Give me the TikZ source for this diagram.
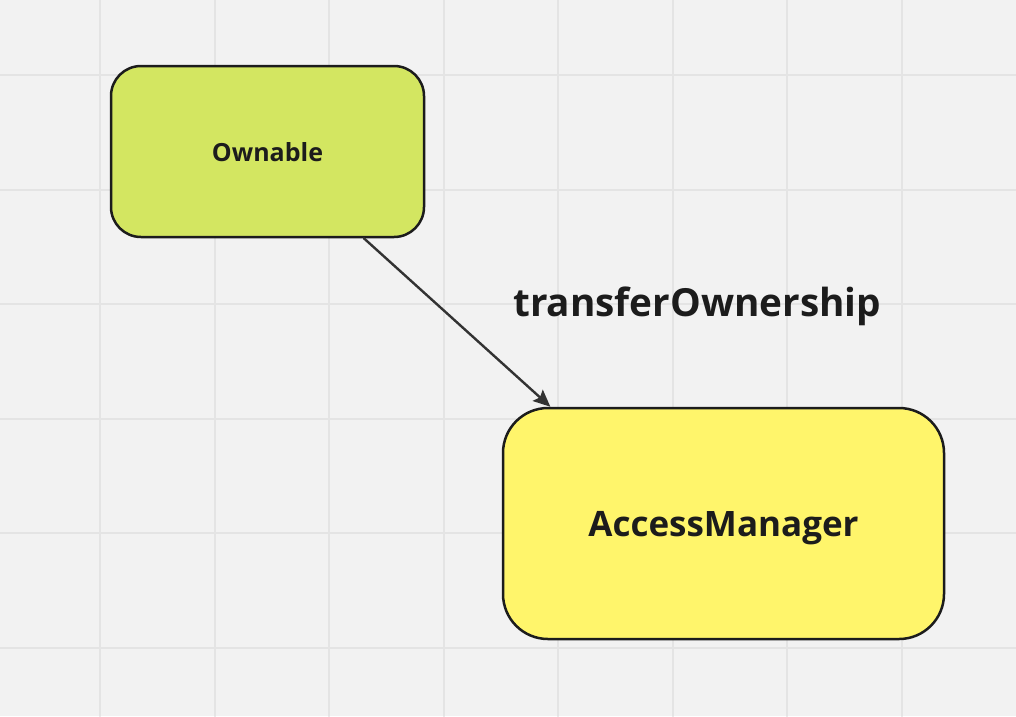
\documentclass[tikz,border=0pt]{standalone}
\usepackage{fontspec}
\setmainfont{Open Sans}
\usepackage[dvipsnames]{xcolor}
\usetikzlibrary{arrows}
\usetikzlibrary{arrows.meta}
\usetikzlibrary{positioning}
\definecolor{paper}{HTML}{F2F2F2}
\definecolor{gridgray}{HTML}{E4E4E4}
\definecolor{limegreen}{HTML}{D3E661}
\definecolor{lemon}{HTML}{FFF56B}
\definecolor{inkgray}{HTML}{1C1C1C}
\definecolor{arrowgray}{HTML}{333333}
\tikzset{
  classbox/.style={draw=inkgray,line width=2.5pt,rounded corners=#1,align=center,text=inkgray,text depth=0pt},
  calls/.style={-{Stealth[length=17pt,width=15pt,inset=3pt]},color=arrowgray,line width=2.4pt}
}

\begin{document}
\begin{tikzpicture}[line cap=round,line join=round,x=1pt,y=-1pt]
\fill[color=paper] (0,0) rectangle (1016,716);
\useasboundingbox (0,0) rectangle (1016,716);
\foreach \x in {0,...,7}
\draw[color=gridgray,line width=2pt] ({100+114.5*\x},0) -- ({100+114.5*\x},716);
\foreach \y in {0,...,5}
\draw[color=gridgray,line width=2pt] (0,{75+114.5*\y}) -- (1016,{75+114.5*\y});
\node[classbox=30pt,fill=limegreen,minimum width=313pt,minimum height=171pt,font=\bfseries\fontsize{25}{30}\selectfont] (ownable) at (267.5,151.5) {Ownable};
\node[classbox=45pt,fill=lemon,minimum width=441pt,minimum height=231pt,font=\bfseries\fontsize{35}{42}\selectfont] (manager) at (723.5,523.5) {AccessManager};
\draw[calls] (ownable.-42.7) -- (manager.146.3);
\node[anchor=base west,inner sep=0pt,text=inkgray,font=\bfseries\fontsize{38.7}{46}\selectfont] (transfer) at (513,316.5) {transferOwnership};
\end{tikzpicture}
\end{document}
